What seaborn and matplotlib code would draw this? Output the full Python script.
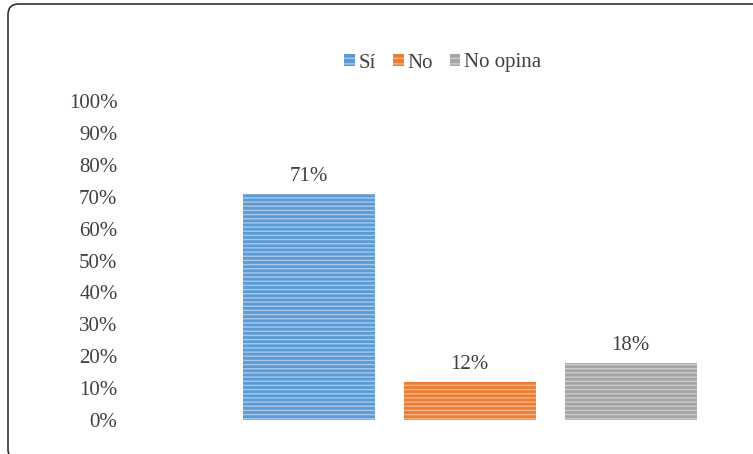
import matplotlib
matplotlib.use("Agg")
import matplotlib.pyplot as plt
import seaborn as sns
import pandas as pd
from matplotlib.patches import FancyBboxPatch, Patch

categories = ["Sí", "No", "No opina"]
values = [71, 12, 18]
colors = ["#5B9BD5", "#ED7D31", "#A5A5A5"]
hatch_colors = ["#A8C9EC", "#F6B48A", "#CDCDCD"]
yticks = list(range(0, 101, 10))
ytick_labels = [f"{t}%" for t in yticks]

sns.set_theme(style="white")
plt.rcParams['font.family'] = ['Liberation Serif', 'DejaVu Serif']
plt.rcParams['hatch.linewidth'] = 1.0

df = pd.DataFrame({"cat": categories, "val": values})

fig = plt.figure(figsize=(7.53, 4.54), dpi=100)
W, H = 753, 454
ax = fig.add_axes([130 / W, 1 - 420 / H, (711 - 130) / W, (420 - 101) / H])

sns.barplot(data=df, x="cat", y="val", hue="cat", palette=colors, order=categories,
            hue_order=categories, width=0.82, legend=False, ax=ax, saturation=1)

for patch, hc in zip(ax.patches, hatch_colors):
    patch.set_hatch("----")
    patch.set_edgecolor(hc)
    patch.set_linewidth(0)

for i, v in enumerate(values):
    ax.text(i, v + 2.3, f"{v}%", ha="center", va="bottom", fontsize=15, color="#404040")

ax.set_xlim(-1.11, 2.5)
ax.set_ylim(0, 100)
ax.set_yticks(yticks)
ax.set_yticklabels(ytick_labels, fontsize=15, color="#404040")
ax.tick_params(axis="y", length=0, pad=9)
ax.set_xticks([])
ax.set_xlabel("")
ax.set_ylabel("")
for s in ax.spines.values():
    s.set_visible(False)

handles = [Patch(facecolor=c, edgecolor=hc, hatch="---", linewidth=0)
           for c, hc in zip(colors, hatch_colors)]
fig.legend(handles, categories, loc="center", bbox_to_anchor=(443 / W, 1 - 63 / H),
           ncol=3, frameon=False, fontsize=15, handlelength=0.5, handleheight=0.5,
           handletextpad=0.2, columnspacing=0.8, labelcolor="#404040")

frame = FancyBboxPatch((8 / W, 1 - 460 / H), (770 - 8) / W, (460 - 4) / H,
                       boxstyle="round,pad=0,rounding_size=0.014", transform=fig.transFigure,
                       facecolor="none", edgecolor="#222222", linewidth=1.1,
                       mutation_aspect=W / H)
fig.patches.append(frame)

fig.savefig("out.png", dpi=100)
